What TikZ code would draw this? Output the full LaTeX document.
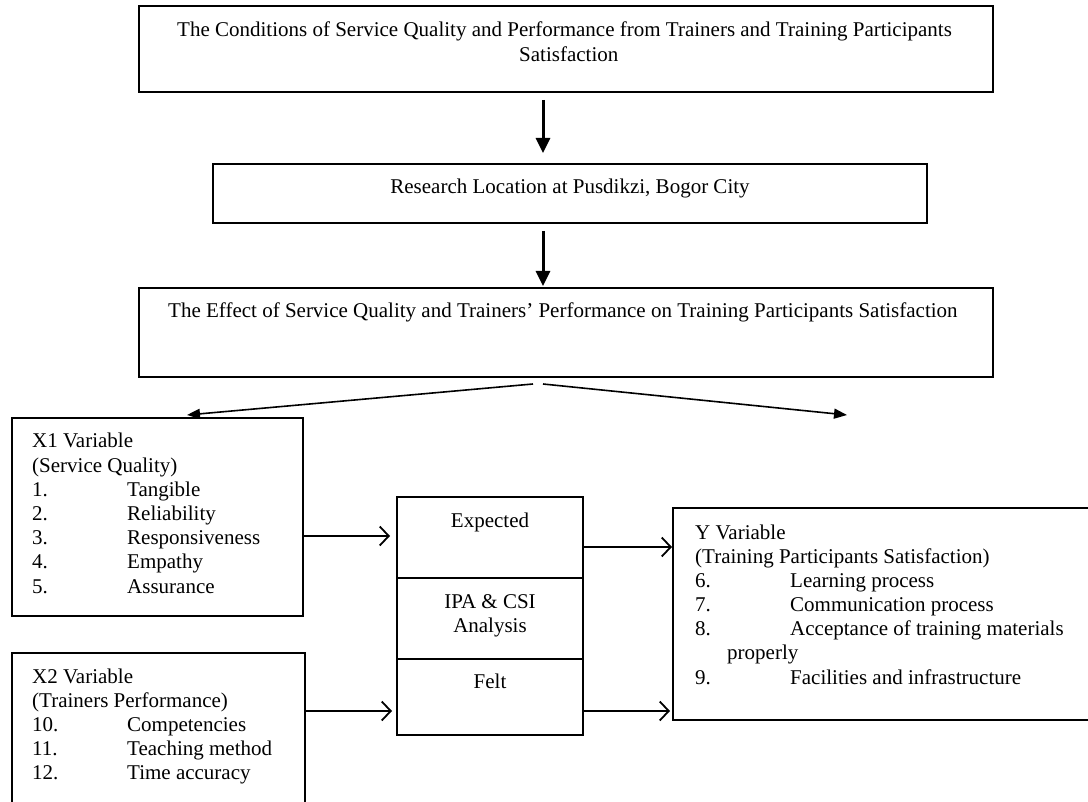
\documentclass[tikz,border=0pt]{standalone}
\usepackage{fontspec}
\setmainfont{Liberation Serif}
\usetikzlibrary{arrows.meta}
\newcommand\mkitem[1]{\makebox[95pt][l]{#1}}
\begin{document}
\begin{tikzpicture}[x=1pt,y=-1pt,
  box/.style={draw, line width=2pt, inner sep=0pt, outer sep=0pt, anchor=north west},
  txt/.style={inner sep=0pt, font=\fontsize{21}{24.2}\selectfont},
  down/.style={line width=3pt, -{Triangle[length=15pt,width=14pt]}},
  diag/.style={line width=1.6pt, -{Triangle[length=13pt,width=10pt]}},
  flow/.style={line width=1.8pt, -{Straight Barb[length=9pt,width=19pt]}}]
\fill[white] (0,0) rectangle (1088,802);
\useasboundingbox (0,0) rectangle (1088,802);

% boxes
\node[box, minimum width=854pt, minimum height=86pt] (cond) at (139,6) {};
\node[box, minimum width=714pt, minimum height=59pt] (loc) at (213,164) {};
\node[box, minimum width=854pt, minimum height=89pt] (eff) at (139,288) {};
\node[box, minimum width=291pt, minimum height=198pt] (x1) at (12,418) {};
\node[box, minimum width=293pt, minimum height=200pt] (x2) at (12,653) {};
\node[box, minimum width=186pt, minimum height=81pt] (exp) at (397,497) {};
\node[box, minimum width=186pt, minimum height=81pt] (ipa) at (397,578) {};
\node[box, minimum width=186pt, minimum height=76pt] (felt) at (397,659) {};
\node[box, minimum width=450pt, minimum height=212pt] (ybox) at (673,508) {};

% texts
\node[txt, anchor=base west] (condt1) at (177,37) {The Conditions of Service Quality and Performance from Trainers and Training Participants};
\node[txt, anchor=base west] (condt2) at (519,62) {Satisfaction};
\node[txt, anchor=base] (loct) at (570,194) {Research Location at Pusdikzi, Bogor City};
\node[txt, anchor=base west] (efft) at (168,318) {The Effect of Service Quality and Trainers’ Performance on Training Participants Satisfaction};
\node[txt, anchor=base west] (x1t) at (32,448) {\begin{tabular}[t]{@{}l@{}}
X1 Variable\\
(Service Quality)\\
\mkitem{1.}Tangible\\
\mkitem{2.}Reliability\\
\mkitem{3.}Responsiveness\\
\mkitem{4.}Empathy\\
\mkitem{5.}Assurance
\end{tabular}};
\node[txt, anchor=base west] (x2t) at (32,683) {\begin{tabular}[t]{@{}l@{}}
X2 Variable\\
(Trainers Performance)\\
\mkitem{10.}Competencies\\
\mkitem{11.}Teaching method\\
\mkitem{12.}Time accuracy
\end{tabular}};
\node[txt, anchor=base west] (yt) at (695,539) {\begin{tabular}[t]{@{}l@{}}
Y Variable\\
(Training Participants Satisfaction)\\
\mkitem{6.}Learning process\\
\mkitem{7.}Communication process\\
\mkitem{8.}Acceptance of training materials\\
\hspace*{32pt}properly\\
\mkitem{9.}Facilities and infrastructure
\end{tabular}};
\node[txt, anchor=base] (expt) at (490,527) {Expected};
\node[txt, anchor=base] (ipat) at (490,608) {\begin{tabular}[t]{@{}c@{}}IPA \& CSI\\Analysis\end{tabular}};
\node[txt, anchor=base] (feltt) at (490,688) {Felt};

% helper coordinates
\coordinate (ax) at (543,0);
\coordinate (dl) at (533,384);
\coordinate (dr) at (543,384);
\coordinate (tl) at (187,415);
\coordinate (tr) at (847,415);
\coordinate (r1) at (0,536);
\coordinate (r2) at (0,547);
\coordinate (r3) at (0,711);

% connectors
\draw[down, shorten <=8pt, shorten >=11pt] (cond.south -| ax) -- (loc.north -| ax);
\draw[down, shorten <=8pt, shorten >=2pt] (loc.south -| ax) -- (eff.north -| ax);
\draw[diag] (dl) -- (tl);
\draw[diag] (dr) -- (tr);
\draw[flow, shorten >=7pt] (x1.east |- r1) -- (exp.west |- r1);
\draw[flow, shorten >=1pt] (exp.east |- r2) -- (ybox.west |- r2);
\draw[flow, shorten >=5pt] (x2.east |- r3) -- (felt.west |- r3);
\draw[flow, shorten >=3pt] (felt.east |- r3) -- (ybox.west |- r3);
\end{tikzpicture}
\end{document}
